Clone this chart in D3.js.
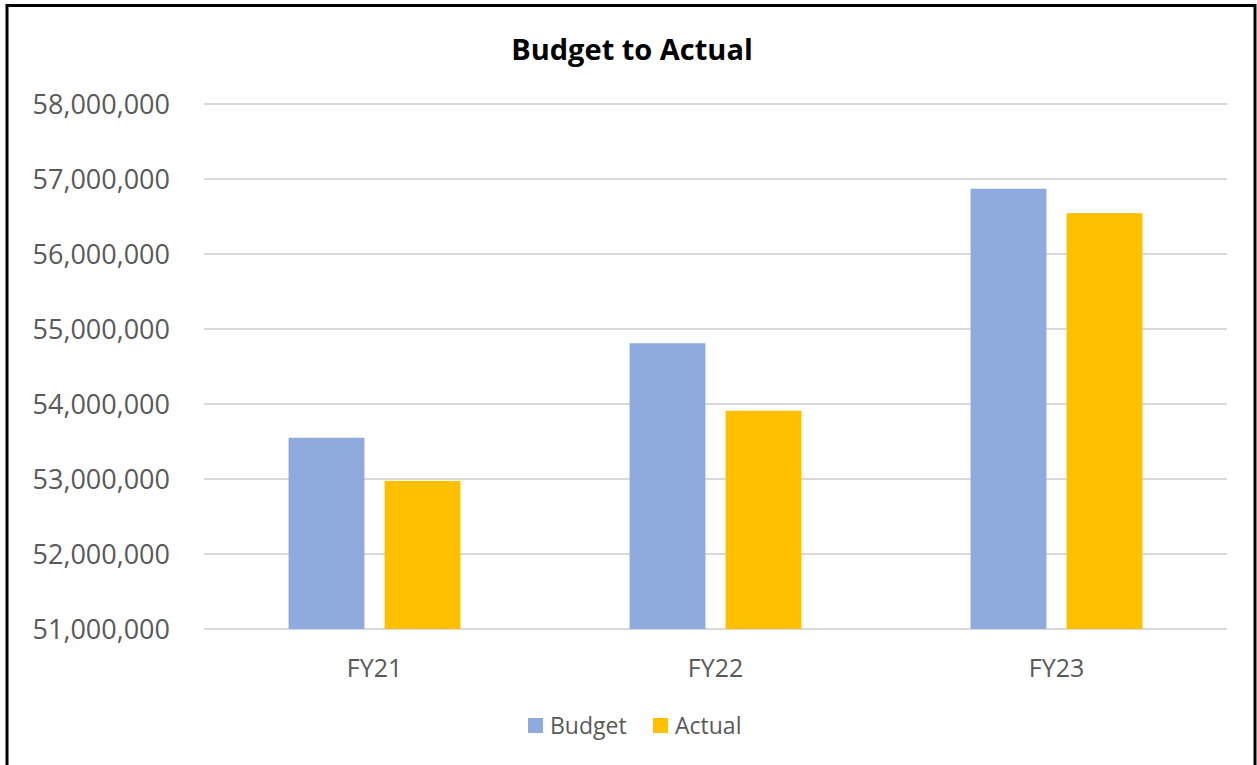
<!DOCTYPE html>
<html>
<head>
<meta charset="utf-8">
<script src="https://cdn.jsdelivr.net/npm/d3@7"></script>
<style>
    body { margin: 0; background: #fff; }
    svg { display: block; font-family: "Open Sans", sans-serif; }
</style>
</head>
<body>
<div id="chart"></div>
<script>
(function() {
    "use strict";

    // Chart data.
    var categories = ["FY21", "FY22", "FY23"];
    var seriesNames = ["Budget", "Actual"];
    var budget = [53550000, 54810000, 56870000];
    var actual = [52975000, 53910000, 56545000];
    var yTicks = [51000000, 52000000, 53000000, 54000000, 55000000, 56000000, 57000000, 58000000];
    var colors = ["#8faadc", "#ffc000"];

    var w = 1257;
    var h = 765;
    var plot = { left: 204, right: 1227, top: 104, bottom: 629 };

    var svg = d3.select("#chart").append("svg")
        .attr("width", w)
        .attr("height", h);

    // Outer frame (bottom edge is cut off in the picture).
    svg.append("path")
        .attr("d", "M7,765 V5.5 H1255 V765")
        .attr("fill", "none")
        .attr("stroke", "#000")
        .attr("stroke-width", 3);

    // Scales.
    var x0 = d3.scaleBand()
        .domain(categories)
        .range([plot.left, plot.right])
        .paddingInner(0.496)
        .paddingOuter(0.248);
    var x1 = d3.scaleBand()
        .domain(seriesNames)
        .range([0, x0.bandwidth()])
        .paddingInner(0.21);
    var y = d3.scaleLinear()
        .domain([51000000, 58000000])
        .range([plot.bottom, plot.top]);

    // Gridlines.
    svg.append("g")
        .selectAll("line")
        .data(yTicks)
        .enter()
        .append("line")
            .attr("x1", plot.left)
            .attr("x2", plot.right)
            .attr("y1", function(d) { return y(d); })
            .attr("y2", function(d) { return y(d); })
            .attr("stroke", "#d9d9d9")
            .attr("stroke-width", 2);

    // Y axis labels.
    var fmt = d3.format(",");
    svg.append("g")
        .selectAll("text")
        .data(yTicks)
        .enter()
        .append("text")
            .attr("x", 170)
            .attr("y", function(d) { return y(d); })
            .attr("dy", "0.36em")
            .attr("text-anchor", "end")
            .attr("fill", "#595959")
            .attr("font-size", 27)
            .text(function(d) { return fmt(d); });

    // Bars.
    var rows = categories.map(function(c, i) {
        return { cat: c, values: [budget[i], actual[i]] };
    });
    var groups = svg.append("g")
        .selectAll("g")
        .data(rows)
        .enter()
        .append("g")
            .attr("transform", function(d) { return "translate(" + x0(d.cat) + ",0)"; });
    groups.selectAll("rect")
        .data(function(d) {
            return d.values.map(function(v, i) { return { name: seriesNames[i], value: v, idx: i }; });
        })
        .enter()
        .append("rect")
            .attr("x", function(d) { return x1(d.name); })
            .attr("y", function(d) { return y(d.value); })
            .attr("width", x1.bandwidth())
            .attr("height", function(d) { return y.range()[0] - y(d.value); })
            .attr("fill", function(d) { return colors[d.idx]; });

    // Category labels.
    svg.append("g")
        .selectAll("text")
        .data(categories)
        .enter()
        .append("text")
            .attr("x", function(d) { return x0(d) + x0.bandwidth() / 2; })
            .attr("y", 677)
            .attr("text-anchor", "middle")
            .attr("fill", "#595959")
            .attr("font-size", 25)
            .text(function(d) { return d; });

    // Title.
    svg.append("text")
        .attr("x", 632)
        .attr("y", 60)
        .attr("text-anchor", "middle")
        .attr("font-weight", "bold")
        .attr("font-size", 29)
        .attr("fill", "#000")
        .text("Budget to Actual");

    // Legend.
    var legendX = [528, 653];
    var legend = svg.append("g")
        .selectAll("g")
        .data(seriesNames)
        .enter()
        .append("g")
            .attr("transform", function(d, i) { return "translate(" + legendX[i] + ",718)"; });
    legend.append("rect")
        .attr("width", 15)
        .attr("height", 15)
        .attr("fill", function(d, i) { return colors[i]; });
    legend.append("text")
        .attr("x", 22)
        .attr("y", 16)
        .attr("fill", "#595959")
        .attr("font-size", 23)
        .text(function(d) { return d; });
})();
</script>
</body>
</html>
